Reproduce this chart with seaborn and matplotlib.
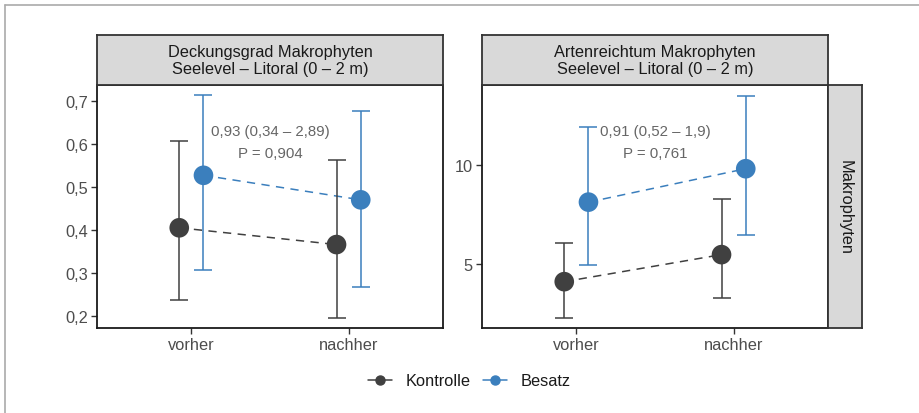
import numpy as np
import pandas as pd
import matplotlib
matplotlib.use("Agg")
import matplotlib.pyplot as plt
from matplotlib.lines import Line2D
from matplotlib.ticker import FuncFormatter
import seaborn as sns

# ---- data -------------------------------------------------------------
zeitpunkt = ["vorher", "nachher"]
gruppen = ["Kontrolle", "Besatz"]

# Deckungsgrad Makrophyten (estimate, lower, upper) per group and time
deck_kontrolle = [0.405, 0.366]
deck_kontrolle_lo = [0.237, 0.196]
deck_kontrolle_hi = [0.606, 0.563]
deck_besatz = [0.527, 0.470]
deck_besatz_lo = [0.307, 0.268]
deck_besatz_hi = [0.713, 0.677]

# Artenreichtum Makrophyten
art_kontrolle = [4.11, 5.47]
art_kontrolle_lo = [2.28, 3.27]
art_kontrolle_hi = [6.04, 8.27]
art_besatz = [8.11, 9.79]
art_besatz_lo = [4.93, 6.47]
art_besatz_hi = [11.91, 13.45]

panel_titles = ["Deckungsgrad Makrophyten\nSeelevel \u2013 Litoral (0 \u2013 2 m)",
                "Artenreichtum Makrophyten\nSeelevel \u2013 Litoral (0 \u2013 2 m)"]
panel_notes = ["0,93 (0,34 \u2013 2,89)\nP = 0,904",
               "0,91 (0,52 \u2013 1,9)\nP = 0,761"]
row_label = "Makrophyten"

# ---- styling ----------------------------------------------------------
sns.set_theme(style="white")
plt.rcParams["font.family"] = ["Liberation Sans", "DejaVu Sans"]

farben = {"Kontrolle": "#404040", "Besatz": "#3B7FBD"}
versatz = {"Kontrolle": -0.077, "Besatz": 0.077}
txt_size = 11.8


def build_frame(kon, kon_lo, kon_hi, bes, bes_lo, bes_hi):
    rows = []
    for g, est, lo, hi in [("Kontrolle", kon, kon_lo, kon_hi),
                           ("Besatz", bes, bes_lo, bes_hi)]:
        for i, z in enumerate(zeitpunkt):
            rows.append({"zeit": z, "gruppe": g, "wert": est[i],
                         "lo": lo[i], "hi": hi[i],
                         "pos": i + 1 + versatz[g]})
    return pd.DataFrame(rows)


frames = [
    build_frame(deck_kontrolle, deck_kontrolle_lo, deck_kontrolle_hi,
                deck_besatz, deck_besatz_lo, deck_besatz_hi),
    build_frame(art_kontrolle, art_kontrolle_lo, art_kontrolle_hi,
                art_besatz, art_besatz_lo, art_besatz_hi),
]

W, H = 919, 414
fig = plt.figure(figsize=(W / 100, H / 100), dpi=100)
fig.patch.set_facecolor("white")


def px_axes(x0, y0, x1, y1):
    return fig.add_axes([x0 / W, 1 - y1 / H, (x1 - x0) / W, (y1 - y0) / H])


panel_px = [(97, 86, 443, 329), (482, 86, 828, 329)]
ylims = [(0.172, 0.737), (1.78, 14.0)]
yticks = [[0.2, 0.3, 0.4, 0.5, 0.6, 0.7], [5, 10]]
note_y = [0.605, 11.14]

for k, df in enumerate(frames):
    x0, y0, x1, y1 = panel_px[k]
    ax = px_axes(x0, y0, x1, y1)

    sns.lineplot(data=df, x="pos", y="wert", hue="gruppe", hue_order=gruppen,
                 palette=farben, ax=ax, legend=False, linewidth=1.1,
                 estimator=None, sort=True)
    for line in ax.get_lines():
        line.set_dashes((5.4, 4.2))

    for g in gruppen:
        sub = df[df["gruppe"] == g]
        ax.errorbar(sub["pos"], sub["wert"],
                    yerr=[sub["wert"] - sub["lo"], sub["hi"] - sub["wert"]],
                    fmt="none", ecolor=farben[g], elinewidth=1.1,
                    capsize=6.5, capthick=1.1, zorder=3)

    sns.scatterplot(data=df, x="pos", y="wert", hue="gruppe", hue_order=gruppen,
                    palette=farben, ax=ax, legend=False, s=200,
                    edgecolor="none", zorder=4)

    ax.set_xlim(0.4, 2.6)
    ax.set_ylim(*ylims[k])
    ax.set_xticks([1, 2])
    ax.set_xticklabels(zeitpunkt)
    ax.set_yticks(yticks[k])
    if k == 0:
        ax.yaxis.set_major_formatter(FuncFormatter(lambda v, p: f"{v:.1f}".replace(".", ",")))
    else:
        ax.yaxis.set_major_formatter(FuncFormatter(lambda v, p: f"{v:.0f}"))
    ax.set_xlabel("")
    ax.set_ylabel("")
    ax.tick_params(axis="both", which="major", length=4, width=1.0,
                   color="#333333", labelcolor="#4D4D4D", labelsize=txt_size,
                   bottom=True, left=True, pad=2.5)
    for s in ax.spines.values():
        s.set_color("#1A1A1A")
        s.set_linewidth(1.3)

    ax.text(1.5, note_y[k], panel_notes[k], ha="center", va="center",
            fontsize=10.8, color="#666666", linespacing=1.7)

    # facet strip above the panel
    st = px_axes(x0, 36, x1, y0)
    st.set_facecolor("#D9D9D9")
    st.set_xticks([])
    st.set_yticks([])
    for s in st.spines.values():
        s.set_color("#333333")
        s.set_linewidth(1.3)
    st.text(0.5, 0.5, panel_titles[k], ha="center", va="center",
            fontsize=txt_size, color="#1A1A1A", linespacing=1.2,
            transform=st.transAxes)

# row strip on the right
rs = px_axes(828, 86, 862, 329)
rs.set_facecolor("#D9D9D9")
rs.set_xticks([])
rs.set_yticks([])
for s in rs.spines.values():
    s.set_color("#333333")
    s.set_linewidth(1.3)
rs.text(0.5, 0.5, row_label, ha="center", va="center", rotation=-90,
        fontsize=txt_size, color="#1A1A1A", transform=rs.transAxes)

# legend
handles = [Line2D([0], [0], color=farben[g], marker="o", markersize=6.5,
                  linewidth=1.1, label=g) for g in gruppen]
fig.legend(handles=handles, loc="center", ncol=2,
           bbox_to_anchor=(469 / W, 1 - 382 / H), frameon=False,
           fontsize=txt_size, handlelength=1.5, handletextpad=0.8,
           columnspacing=0.75, labelcolor="#1A1A1A")

# thin grey frame along the top and left edges
fig.add_artist(Line2D([5 / W, 5 / W], [0, 1 - 6 / H], color="#AAAAAA",
                      linewidth=1.2, transform=fig.transFigure))
fig.add_artist(Line2D([5 / W, 1], [1 - 6 / H, 1 - 6 / H], color="#AAAAAA",
                      linewidth=1.2, transform=fig.transFigure))

fig.savefig("out.png", dpi=100, facecolor="white")
